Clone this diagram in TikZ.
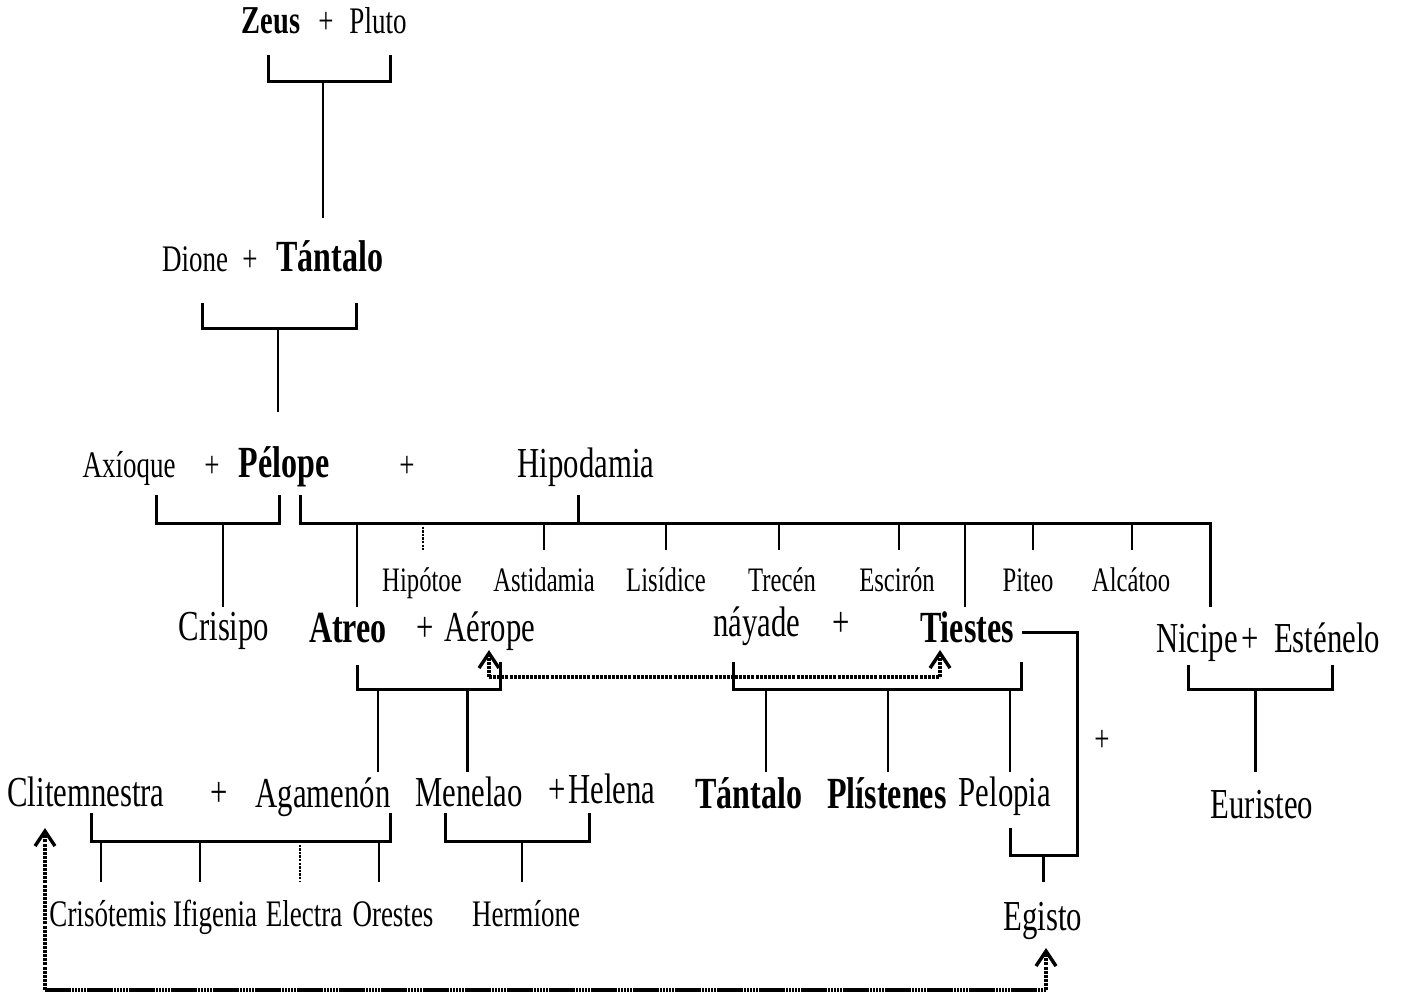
\documentclass[tikz,border=0pt]{standalone}
\usepackage{fontspec}
\setmainfont[FakeStretch=0.72]{Liberation Serif}
\usetikzlibrary{arrows.meta}
\tikzset{
  lbl/.style={anchor=base,inner sep=0pt},
  big/.style={lbl,font=\fontsize{42.7}{46}\selectfont},
  bigb/.style={lbl,font=\fontsize{44.5}{48}\selectfont\bfseries},
  mid/.style={lbl,font=\fontsize{37.5}{41}\selectfont},
  sml/.style={lbl,font=\fontsize{34.3}{38}\selectfont},
  kin/.style={line width=3pt},
  drop/.style={line width=2.2pt},
  thin dots/.style={line width=1.6pt,dash pattern=on 2.4pt off 1.2pt},
  dotline/.style={line width=3.2pt,dash pattern=on 3pt off 1.1pt},
  mixline/.style={line width=3.2pt,dash pattern=on 26pt off 1pt on 2pt off 1pt on 2pt off 1pt on 2pt off 1pt on 2pt off 1pt on 2pt off 1pt},
  tip/.style={-{Straight Barb[length=15pt,width=20pt,line width=3.4pt]}},
}
\begin{document}
\begin{tikzpicture}[x=1pt,y=-1pt]
\useasboundingbox (0,0) rectangle (1405,994);
% ---- labels
\node[lbl,font=\fontsize{39.5}{43}\selectfont\bfseries] (zeus) at (271,33) {Zeus};
\node[mid] (p1) at (326,33) {+};
\node[mid] (pluto) at (378,33) {Pluto};
\node[mid] (dione) at (195,271) {Dione};
\node[mid] (p2) at (250,271) {+};
\node[bigb] (tantaloA) at (330,271) {Tántalo};
\node[mid] (axioque) at (129,477) {Axíoque};
\node[mid] (p3) at (212,477) {+};
\node[bigb] (pelope) at (284,477) {Pélope};
\node[mid] (p4) at (407,477) {+};
\node[big] (hipodamia) at (586,477) {Hipodamia};
\node[sml] (hipotoe) at (422,591) {Hipótoe};
\node[sml] (astidamia) at (544,591) {Astidamia};
\node[sml] (lisidice) at (666,591) {Lisídice};
\node[sml] (trecen) at (782,591) {Trecén};
\node[sml] (esciron) at (897,591) {Escirón};
\node[sml] (piteo) at (1028,591) {Piteo};
\node[sml] (alcatoo) at (1131,591) {Alcátoo};
\node[big] (crisipo) at (224,640) {Crisipo};
\node[bigb] (atreo) at (348,642) {Atreo};
\node[big] (p5) at (425,641) {+};
\node[big] (aerope) at (490,641) {Aérope};
\node[big] (nayade) at (757,636) {náyade};
\node[big] (p6) at (841,636) {+};
\node[bigb] (tiestes) at (967,642) {Tiestes};
\node[big] (nicipe) at (1197,652) {Nicipe};
\node[big] (p7) at (1250,652) {+};
\node[big] (estenelo) at (1327,652) {Esténelo};
\node[mid] (p8) at (1102,751) {+};
\node[big] (clitemnestra) at (86,806) {Clitemnestra};
\node[big] (p9) at (219,806) {+};
\node[big] (agamenon) at (323,807) {Agamenón};
\node[big] (menelao) at (469,806) {Menelao};
\node[big] (p10) at (557,803) {+};
\node[big] (helena) at (612,803) {Helena};
\node[bigb] (tantaloB) at (749,808) {Tántalo};
\node[bigb] (plistenes) at (887,808) {Plístenes};
\node[big] (pelopia) at (1005,806) {Pelopia};
\node[big] (euristeo) at (1262,818) {Euristeo};
\node[mid] (crisotemis) at (108,926) {Crisótemis};
\node[mid] (ifigenia) at (215,926) {Ifigenia};
\node[mid] (electra) at (304,926) {Electra};
\node[mid] (orestes) at (393,926) {Orestes};
\node[mid] (hermione) at (526,926) {Hermíone};
\node[big] (egisto) at (1043,930) {Egisto};
% ---- Zeus + Pluto
\draw[kin] (268,55) -- (268,81) -- (390,81) -- (390,55);
\draw[drop] (323,81) -- (323,218);
% ---- Dione + Tantalo
\draw[kin] (202,303) -- (202,328) -- (356,328) -- (356,303);
\draw[drop] (278,328) -- (278,412);
% ---- Axioque + Pelope
\draw[kin] (156,495) -- (156,523) -- (279,523) -- (279,495);
\draw[drop] (223,523) -- (223,607);
% ---- Pelope + Hipodamia
\draw[kin] (300,495) -- (300,523) -- (1210,523) -- (1210,607);
\draw[kin] (578,495) -- (578,523);
\foreach \x in {544,666,779,899,1033,1132} \draw[drop] (\x,523) -- (\x,550);
\draw[thin dots] (423,523) -- (423,550);
\draw[drop] (357,523) -- (357,607);
\draw[drop] (965,523) -- (965,607);
% ---- Atreo + Aerope
\draw[kin] (357,665) -- (357,689) -- (500,689) -- (500,662);
\draw[drop] (378,689) -- (378,772);
\draw[kin] (467,689) -- (467,772);
% ---- nayade + Tiestes
\draw[kin] (733,662) -- (733,689) -- (1021,689) -- (1021,662);
\foreach \x in {766,888,1010} \draw[drop] (\x,689) -- (\x,772);
% ---- Tiestes + Pelopia
\coordinate (tE) at (1022,632);
\draw[kin] (tE) -- (1077,632) -- (1077,855) -- (1010,855) -- (1010,828);
\draw[kin] (1043,855) -- (1043,882);
% ---- Nicipe + Estenelo
\draw[kin] (1188,665) -- (1188,689) -- (1332,689) -- (1332,665);
\draw[kin] (1255,689) -- (1255,772);
% ---- Clitemnestra + Agamenon
\draw[kin] (91,813) -- (91,841) -- (390,841) -- (390,813);
\foreach \x in {101,200,379} \draw[drop] (\x,841) -- (\x,882);
\draw[thin dots] (300,841) -- (300,882);
% ---- Menelao + Helena
\draw[kin] (445,813) -- (445,841) -- (589,841) -- (589,813);
\draw[drop] (522,841) -- (522,882);
% ---- dotted relations
\coordinate (aA) at (489,677);
\coordinate (aT) at (940,677);
\draw[dotline] (aA) -- (aT);
\draw[dotline,tip] (aA) -- (489,650);
\draw[dotline,tip] (aT) -- (940,650);
\coordinate (bC) at (45,990);
\coordinate (bE) at (1046,990);
\draw[mixline] (bC) -- (bE);
\draw[dotline,tip] (bC) -- (45,828);
\draw[dotline,tip] (bE) -- (1046,948);
\end{tikzpicture}
\end{document}
